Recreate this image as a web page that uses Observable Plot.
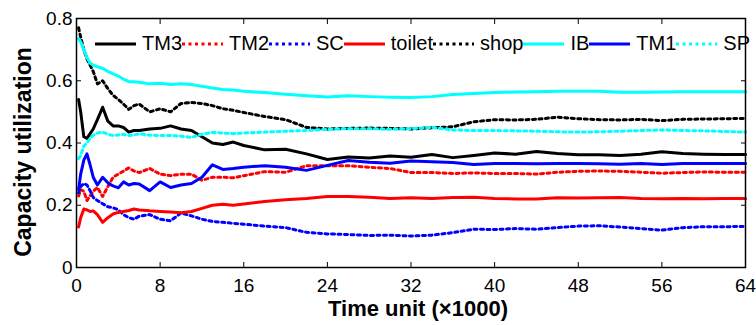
<!DOCTYPE html>
<html>
<head>
<meta charset="utf-8">
<script src="https://cdn.jsdelivr.net/npm/d3@7"></script>
<script src="https://cdn.jsdelivr.net/npm/@observablehq/plot@0.6"></script>
<style>
  body { margin: 0; background: #fff; }
  #wrap { position: relative; width: 756px; height: 325px; font-family: "Liberation Sans", Arial, sans-serif; }
  #legend { position: absolute; left: 95px; top: 32px; display: flex; align-items: center; font-size: 20px; line-height: 23px; color: #000; white-space: nowrap; }
  .item { display: flex; align-items: center; }
  .item svg { margin-right: 6px; display: block; }
</style>
</head>
<body>
<div id="wrap"><div id="chart"></div><div id="legend"></div></div>
<script>
// Time axis (×1000 time units)
const time = [0.2, 0.4, 0.7, 1, 1.3, 1.6, 2, 2.5, 3, 3.5, 4, 4.5, 5, 5.5, 6, 7, 8, 9, 10, 11, 12, 13, 14, 15, 16, 18, 20, 22, 24, 26, 28, 30, 32, 34, 36, 38, 40, 42, 44, 46, 48, 50, 52, 54, 56, 58, 60, 62, 64];

const TM3 = [0.54, 0.50, 0.42, 0.415, 0.43, 0.445, 0.475, 0.515, 0.47, 0.455, 0.455, 0.45, 0.435, 0.44, 0.44, 0.445, 0.447, 0.455, 0.445, 0.44, 0.42, 0.40, 0.395, 0.403, 0.392, 0.378, 0.38, 0.365, 0.347, 0.355, 0.352, 0.358, 0.354, 0.363, 0.353, 0.36, 0.368, 0.364, 0.373, 0.366, 0.362, 0.362, 0.36, 0.364, 0.372, 0.366, 0.364, 0.363, 0.363];
const TM2 = [0.23, 0.25, 0.245, 0.215, 0.23, 0.245, 0.257, 0.228, 0.26, 0.29, 0.30, 0.31, 0.32, 0.31, 0.305, 0.318, 0.30, 0.295, 0.30, 0.30, 0.28, 0.29, 0.29, 0.288, 0.295, 0.308, 0.306, 0.327, 0.327, 0.327, 0.322, 0.318, 0.305, 0.305, 0.302, 0.304, 0.302, 0.302, 0.30, 0.306, 0.309, 0.31, 0.309, 0.306, 0.303, 0.305, 0.307, 0.306, 0.306];
const SC = [0.24, 0.26, 0.27, 0.265, 0.247, 0.225, 0.215, 0.205, 0.195, 0.192, 0.185, 0.17, 0.16, 0.155, 0.165, 0.17, 0.155, 0.15, 0.175, 0.166, 0.155, 0.148, 0.145, 0.142, 0.139, 0.133, 0.128, 0.113, 0.108, 0.106, 0.103, 0.104, 0.101, 0.104, 0.112, 0.123, 0.122, 0.125, 0.123, 0.128, 0.133, 0.134, 0.13, 0.125, 0.12, 0.128, 0.131, 0.131, 0.132];
const toilet = [0.13, 0.16, 0.188, 0.185, 0.18, 0.182, 0.17, 0.145, 0.16, 0.172, 0.177, 0.18, 0.183, 0.188, 0.185, 0.182, 0.18, 0.178, 0.176, 0.18, 0.19, 0.2, 0.203, 0.2, 0.204, 0.212, 0.218, 0.222, 0.228, 0.228, 0.226, 0.222, 0.224, 0.222, 0.225, 0.226, 0.222, 0.22, 0.22, 0.224, 0.223, 0.224, 0.225, 0.222, 0.221, 0.222, 0.221, 0.222, 0.222];
const shop = [0.77, 0.74, 0.70, 0.67, 0.65, 0.63, 0.59, 0.60, 0.575, 0.553, 0.54, 0.525, 0.508, 0.52, 0.525, 0.50, 0.51, 0.50, 0.527, 0.53, 0.527, 0.52, 0.51, 0.505, 0.498, 0.485, 0.475, 0.45, 0.445, 0.447, 0.448, 0.447, 0.445, 0.449, 0.452, 0.468, 0.475, 0.474, 0.476, 0.483, 0.478, 0.475, 0.474, 0.476, 0.472, 0.476, 0.477, 0.478, 0.479];
const IB = [0.735, 0.725, 0.70, 0.675, 0.657, 0.65, 0.645, 0.64, 0.63, 0.622, 0.615, 0.605, 0.597, 0.597, 0.595, 0.59, 0.592, 0.588, 0.59, 0.588, 0.582, 0.577, 0.572, 0.57, 0.566, 0.562, 0.557, 0.552, 0.548, 0.552, 0.549, 0.547, 0.546, 0.549, 0.556, 0.559, 0.562, 0.564, 0.565, 0.566, 0.566, 0.566, 0.563, 0.563, 0.564, 0.565, 0.565, 0.565, 0.565];
const TM1 = [0.25, 0.30, 0.345, 0.365, 0.33, 0.29, 0.265, 0.29, 0.272, 0.262, 0.256, 0.275, 0.265, 0.27, 0.268, 0.247, 0.275, 0.257, 0.265, 0.27, 0.29, 0.33, 0.315, 0.318, 0.322, 0.327, 0.322, 0.312, 0.328, 0.344, 0.338, 0.335, 0.342, 0.34, 0.337, 0.331, 0.334, 0.334, 0.333, 0.334, 0.334, 0.333, 0.332, 0.334, 0.331, 0.334, 0.334, 0.334, 0.334];
const SP = [0.35, 0.36, 0.39, 0.40, 0.415, 0.425, 0.432, 0.435, 0.428, 0.424, 0.426, 0.428, 0.424, 0.426, 0.43, 0.425, 0.424, 0.424, 0.422, 0.418, 0.428, 0.434, 0.432, 0.43, 0.432, 0.435, 0.438, 0.44, 0.444, 0.446, 0.446, 0.444, 0.446, 0.45, 0.442, 0.44, 0.44, 0.439, 0.438, 0.436, 0.435, 0.436, 0.438, 0.44, 0.442, 0.44, 0.439, 0.437, 0.435];

const seriesNames = ["TM3", "TM2", "SC", "toilet", "shop", "IB", "TM1", "SP"];
const seriesValues = [TM3, TM2, SC, toilet, shop, IB, TM1, SP];
const seriesColors = ["#000000", "#ff0000", "#0000ff", "#ff0000", "#000000", "#00ffff", "#0000ff", "#00ffff"];
const seriesDotted = [false, true, true, false, true, false, false, true];

const xTicks = [0, 8, 16, 24, 32, 40, 48, 56, 64];
const yTicks = [0, 0.2, 0.4, 0.6, 0.8];
const yTickLabels = ["0", "0.2", "0.4", "0.6", "0.8"];
const xLabel = "Time unit (×1000)";
const yLabel = "Capacity utilization";

const solidWidth = 3, dottedWidth = 3, dash = "3,3.5";

const lineMarks = seriesNames.map((name, k) => Plot.line(
  time.map((t, i) => ({t, v: seriesValues[k][i], name})),
  {x: "t", y: "v", stroke: seriesColors[k],
   strokeWidth: seriesDotted[k] ? dottedWidth : solidWidth,
   strokeDasharray: seriesDotted[k] ? dash : null,
   strokeLinejoin: "round"}
));

const chart = Plot.plot({
  width: 756,
  height: 325,
  marginLeft: 76,
  marginRight: 11,
  marginTop: 18,
  marginBottom: 58,
  style: {fontFamily: "'Liberation Sans', Arial, sans-serif", fontSize: "19px", background: "#fff", color: "#000"},
  x: {domain: [0, 64]},
  y: {domain: [0, 0.8]},
  marks: [
    ...lineMarks,
    Plot.frame({stroke: "#000", strokeWidth: 1.5}),
    Plot.axisX(xTicks, {anchor: "bottom", tickSize: -5, fill: "none", label: null}),
    Plot.axisX(xTicks, {anchor: "top", tickSize: -5, fill: "none", label: null}),
    Plot.axisY(yTicks, {anchor: "left", tickSize: -5, fill: "none", label: null}),
    Plot.axisY(yTicks, {anchor: "right", tickSize: -5, fill: "none", label: null}),
    Plot.axisX(xTicks, {anchor: "bottom", tickSize: 0, tickPadding: 11, label: null, fontSize: 19, tickFormat: d => String(d)}),
    Plot.axisY(yTicks, {anchor: "left", tickSize: 0, tickPadding: 4, label: null, fontSize: 19, tickFormat: d => yTickLabels[yTicks.indexOf(d)]}),
    Plot.text([xLabel], {text: d => d, frameAnchor: "bottom", dx: 7, dy: 41, textAnchor: "middle", lineAnchor: "middle", fontSize: 22, fontWeight: "bold"}),
    Plot.text([yLabel], {text: d => d, frameAnchor: "left", rotate: -90, dx: -53, dy: 9, textAnchor: "middle", lineAnchor: "middle", fontSize: 23, fontWeight: "bold"})
  ]
});
document.getElementById("chart").appendChild(chart);

// Legend (inside the plot, top)
const legend = document.getElementById("legend");
seriesNames.forEach((name, k) => {
  const item = document.createElement("div");
  item.className = "item";
  const ns = "http://www.w3.org/2000/svg";
  const svg = document.createElementNS(ns, "svg");
  svg.setAttribute("width", 41);
  svg.setAttribute("height", 8);
  const ln = document.createElementNS(ns, "line");
  ln.setAttribute("x1", 0); ln.setAttribute("x2", 41);
  ln.setAttribute("y1", 4); ln.setAttribute("y2", 4);
  ln.setAttribute("stroke", seriesColors[k]);
  ln.setAttribute("stroke-width", seriesDotted[k] ? dottedWidth : solidWidth);
  if (seriesDotted[k]) ln.setAttribute("stroke-dasharray", dash);
  svg.appendChild(ln);
  const label = document.createElement("span");
  label.textContent = name;
  item.appendChild(svg);
  item.appendChild(label);
  legend.appendChild(item);
});
</script>
</body>
</html>
